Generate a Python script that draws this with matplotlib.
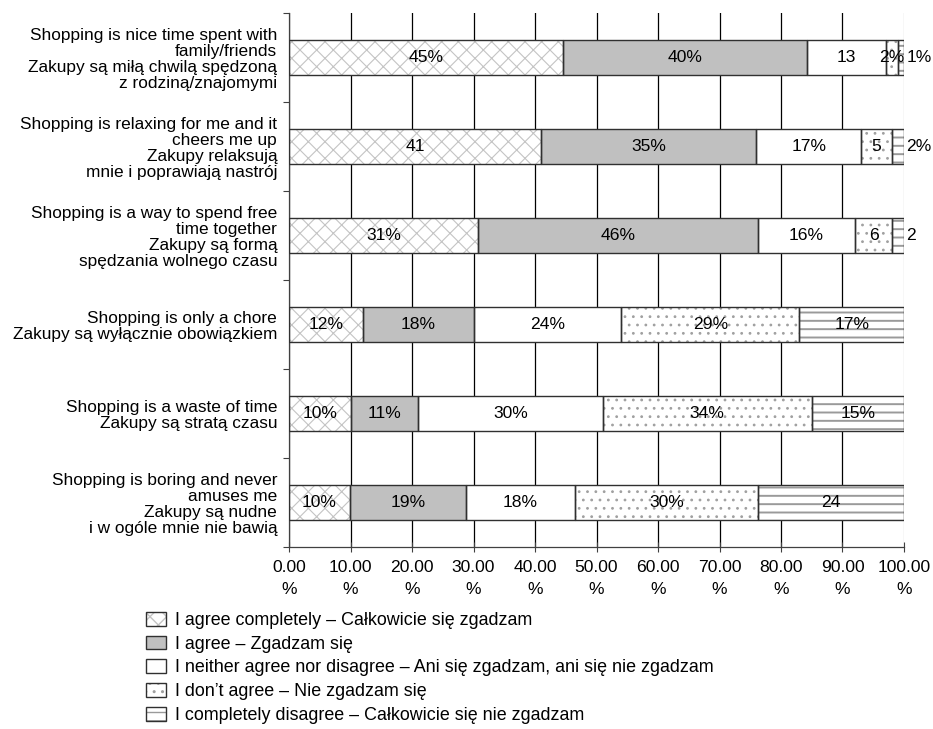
import matplotlib.pyplot as plt
import numpy as np
from matplotlib.patches import Patch
from matplotlib.legend_handler import HandlerTuple

plt.rcParams["font.family"] = ["Liberation Sans", "DejaVu Sans"]

# ---- survey statements (top to bottom) ----
statements = [
    "Shopping is nice time spent with\nfamily/friends\nZakupy są miłą chwilą spędzoną\nz rodziną/znajomymi",
    "Shopping is relaxing for me and it\ncheers me up\nZakupy relaksują\nmnie i poprawiają nastrój",
    "Shopping is a way to spend free\ntime together\nZakupy są formą\nspędzania wolnego czasu",
    "Shopping is only a chore\nZakupy są wyłącznie obowiązkiem",
    "Shopping is a waste of time\nZakupy są stratą czasu",
    "Shopping is boring and never\namuses me\nZakupy są nudne\ni w ogóle mnie nie bawią",
]

# ---- answers, % of respondents ----
agree_completely = [45, 41, 31, 12, 10, 10]
agree = [40, 35, 46, 18, 11, 19]
neutral = [13, 17, 16, 24, 30, 18]
disagree = [2, 5, 6, 29, 34, 30]
disagree_completely = [1, 2, 2, 17, 15, 24]

# whether the data label carries a "%" sign
pct_agree_completely = [1, 0, 1, 1, 1, 1]
pct_agree = [1, 1, 1, 1, 1, 1]
pct_neutral = [0, 1, 1, 1, 1, 1]
pct_disagree = [1, 0, 0, 1, 1, 1]
pct_disagree_completely = [1, 1, 0, 1, 1, 0]

answer_names = [
    "I agree completely – Całkowicie się zgadzam",
    "I agree – Zgadzam się",
    "I neither agree nor disagree – Ani się zgadzam, ani się nie zgadzam",
    "I don’t agree – Nie zgadzam się",
    "I completely disagree – Całkowicie się nie zgadzam",
]

series = [agree_completely, agree, neutral, disagree, disagree_completely]
pct_flags = [pct_agree_completely, pct_agree, pct_neutral, pct_disagree, pct_disagree_completely]

# fill / hatch per answer
styles = [
    dict(facecolor="white", hatch="xx", hcolor="#c4c4c4", hlw=0.8),
    dict(facecolor="#c0c0c0", hatch=None, hcolor="#c0c0c0", hlw=0.8),
    dict(facecolor="white", hatch=None, hcolor="white", hlw=0.8),
    dict(facecolor="white", hatch="..", hcolor="#a0a0a0", hlw=0.8),
    dict(facecolor="white", hatch="--", hcolor="#9a9a9a", hlw=1.4),
]
edge_col = "#303030"
fs = 12.6

vals = np.array(series, dtype=float)
shares = vals / vals.sum(axis=0) * 100  # 100% stacked
y = np.arange(len(statements))

fig = plt.figure(figsize=(9.33, 7.29), dpi=100)
ax = fig.add_axes([0.3098, 0.2497, 0.9689 - 0.3098, 0.9822 - 0.2497])

left = np.zeros(len(statements))
handles = []
for k, st in enumerate(styles):
    with plt.rc_context({"hatch.linewidth": st["hlw"]}):
        # hatched fill with light hatch lines, then a dark outline on top
        ax.barh(y, shares[k], left=left, height=0.4, color=st["facecolor"],
                hatch=st["hatch"], edgecolor=st["hcolor"], linewidth=0, zorder=2)
        fill_handle = Patch(facecolor=st["facecolor"], hatch=st["hatch"],
                            edgecolor=st["hcolor"], linewidth=0)
    ax.barh(y, shares[k], left=left, height=0.4, fill=False,
            edgecolor=edge_col, linewidth=1.0, zorder=3)
    for i in range(len(statements)):
        v = series[k][i]
        txt = f"{v}%" if pct_flags[k][i] else f"{v}"
        cx = left[i] + shares[k][i] / 2
        if k == len(styles) - 1 and shares[k][i] < 3:
            ax.text(100.4, y[i], txt, ha="left", va="center", fontsize=fs, zorder=4)
        else:
            ax.text(cx, y[i], txt, ha="center", va="center", fontsize=fs, zorder=4)
    left += shares[k]
    handles.append((fill_handle, Patch(fill=False, edgecolor=edge_col, linewidth=1.0)))

ax.set_xlim(0, 100)
ax.set_ylim(len(statements) - 0.5, -0.5)

xt = np.arange(0, 101, 10)
ax.set_xticks(xt)
ax.set_xticklabels([f"{v:.2f}\n%" for v in xt], fontsize=fs, linespacing=1.6)
ax.tick_params(axis="x", direction="inout", length=7, width=0.8, color="#404040", pad=6)

ax.set_yticks(y)
ax.set_yticklabels(statements, fontsize=12.4, linespacing=1.1)
ax.set_yticks(np.arange(-0.5, len(statements)), minor=True)
ax.tick_params(axis="y", which="major", length=0, pad=8.5)
ax.tick_params(axis="y", which="minor", length=4, width=0.8, color="#404040")

ax.xaxis.grid(True, color="black", linewidth=0.9)
ax.set_axisbelow(True)
ax.get_xgridlines()[-1].set_color("#c0c0c0")

ax.spines["top"].set_visible(False)
ax.spines["right"].set_visible(False)
for s in ("left", "bottom"):
    ax.spines[s].set_color("#404040")
    ax.spines[s].set_linewidth(0.9)

fig.legend(handles, answer_names, handler_map={tuple: HandlerTuple(ndivide=1)},
           loc="upper left", bbox_to_anchor=(146 / 933, 1 - 612 / 729),
           frameon=False, fontsize=12.9, handlelength=1.1, handleheight=0.8,
           handletextpad=0.5, labelspacing=0.37, borderpad=0, borderaxespad=0)

fig.savefig("out.png", dpi=100)
